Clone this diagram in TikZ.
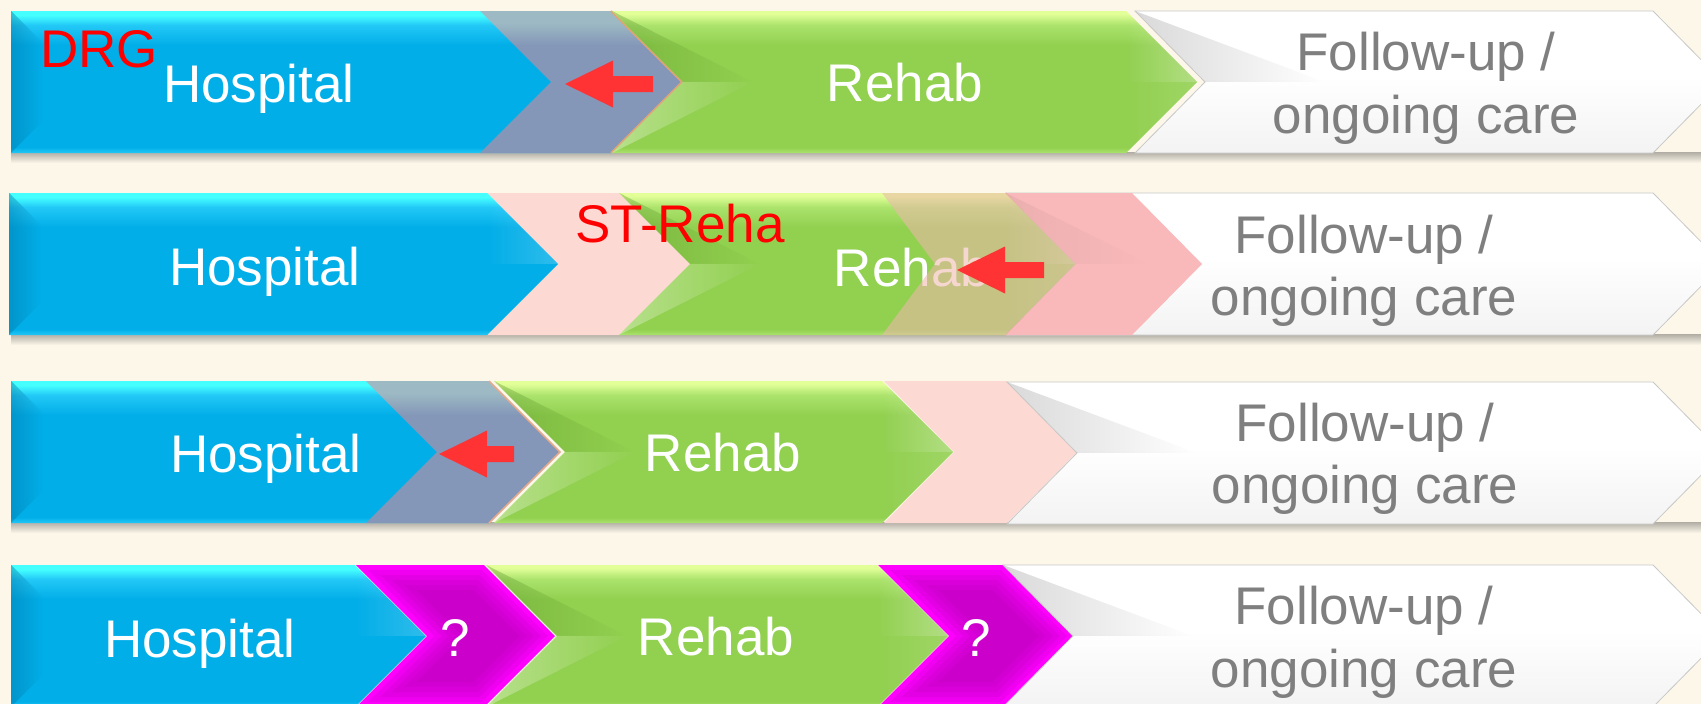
\documentclass[tikz,border=0pt]{standalone}
\usepackage{fontspec}
\setmainfont{Liberation Sans}
\usetikzlibrary{fadings}
\definecolor{bg}{HTML}{FDF7EA}
\definecolor{bBase}{HTML}{02AEE8}
\definecolor{bTop}{HTML}{45FFFF}
\definecolor{bLight}{HTML}{22C8F6}
\definecolor{bDark}{HTML}{0078A8}
\definecolor{gBase}{HTML}{92D050}
\definecolor{gTop}{HTML}{E2FF98}
\definecolor{gLight}{HTML}{ABE36C}
\definecolor{gDark}{HTML}{4E8A20}
\definecolor{grayov}{HTML}{8497B8}
\definecolor{grayovTop}{HTML}{9DBAC4}
\definecolor{ovedge}{HTML}{DDA47A}
\definecolor{pinkL}{HTML}{FCD9D3}
\definecolor{pinkR}{HTML}{F9B9BA}
\definecolor{pinkOv}{HTML}{EEB9AD}
\definecolor{mag}{HTML}{FF00FF}
\definecolor{magD}{HTML}{B000B0}
\definecolor{arrowred}{HTML}{FF3333}
\definecolor{txtgray}{HTML}{7F7F7F}
\definecolor{wBot}{HTML}{F3F3F3}
\pgfdeclareverticalshading{blueV}{100bp}{color(0bp)=(bBase); color(25bp)=(bLight); color(27bp)=(bBase); color(63bp)=(bBase); color(70bp)=(bLight); color(73.5bp)=(bTop); color(100bp)=(bTop)}
\pgfdeclareverticalshading{greenV}{100bp}{color(0bp)=(gBase); color(25bp)=(gLight); color(27bp)=(gBase); color(63bp)=(gBase); color(70bp)=(gLight); color(74bp)=(gTop); color(100bp)=(gTop)}
\pgfdeclareverticalshading{grayV}{100bp}{color(0bp)=(grayov); color(63bp)=(grayov); color(71bp)=(grayovTop); color(100bp)=(grayovTop)}
\pgfdeclareverticalshading{whiteV}{100bp}{color(0bp)=(wBot); color(25bp)=(wBot); color(52bp)=(white); color(100bp)=(white)}
\tikzfading[name=fadeR, left color=transparent!0, right color=transparent!100]
\tikzfading[name=fadeL, left color=transparent!100, right color=transparent!0]
% chevron: style, x1, x2, top, bottom, depth
\newcommand\chevshape[6]{\path[#1] (#2,#4) -- (#3,#4) -- ({#3+#6},{(#4+#5)/2}) -- (#3,#5) -- (#2,#5) -- ({#2+#6},{(#4+#5)/2}) -- cycle;}
\newcommand\pentshape[6]{\path[#1] (#2,#4) -- (#3,#4) -- ({#3+#6},{(#4+#5)/2}) -- (#3,#5) -- (#2,#5) -- cycle;}
% inset chevron (45 deg): style, x1, x2, top, bottom, depth, margin
\newcommand\chevinset[7]{\path[#1] ({#2+2.414*#7},{#4+#7}) -- ({#3-0.414*#7},{#4+#7}) -- ({#3-0.414*#7+#6-#7},{(#4+#5)/2}) -- ({#3-0.414*#7},{#5-#7}) -- ({#2+2.414*#7},{#5-#7}) -- ({#2+2.414*#7+#6-#7},{(#4+#5)/2}) -- cycle;}
% soft bevel wedges of a chevron: x1, x2, top, bottom, depth
\newcommand\chevbevel[5]{%
  \fill[gDark,opacity=.35,path fading=fadeR] (#1,#3) -- ({#1+#5},{(#3+#4)/2}) -- ({#1+#5+70},{(#3+#4)/2}) -- cycle;
  \fill[white,opacity=.35,path fading=fadeR] (#1,#4) -- ({#1+#5},{(#3+#4)/2}) -- ({#1+#5+70},{(#3+#4)/2}) -- cycle;
  \fill[white,opacity=.30,path fading=fadeL] (#2,#3) -- ({#2+#5},{(#3+#4)/2}) -- ({#2+#5-70},{(#3+#4)/2}) -- cycle;
  \fill[white,opacity=.12,path fading=fadeL] (#2,#4) -- ({#2+#5},{(#3+#4)/2}) -- ({#2+#5-70},{(#3+#4)/2}) -- cycle;}
\newcommand\pentbevel[5]{%
  \fill[bDark,opacity=.45,path fading=fadeR] (#1,#3) -- ({#1+32},{#3+32}) -- ({#1+32},{#4-32}) -- (#1,#4) -- cycle;
  \fill[white,opacity=.18,path fading=fadeL] (#2,#3) -- ({#2+#5},{(#3+#4)/2}) -- ({#2+#5-70},{(#3+#4)/2}) -- cycle;}
\newcommand\whitewedge[4]{% x1, top, bottom, depth
  \fill[black,opacity=.15,path fading=fadeR] (#1,#2) -- ({#1+#4},{(#2+#3)/2}) -- ({#1+#4+120},{(#2+#3)/2}) -- cycle;}
\newcommand\blockarrow[3]{% tip, tail, y
  \fill[arrowred] (#1,#3) -- ({#1+48},{#3-23.5}) -- ({#1+48},{#3-8}) -- (#2,{#3-8}) -- (#2,{#3+8}) -- ({#1+48},{#3+8}) -- ({#1+48},{#3+23.5}) -- cycle;}
\newcommand\rowshadow[1]{\shade[top color=black!30!bg, bottom color=bg] (11,{#1-1}) rectangle (1701,{#1+10});}
\newcommand\magchev[6]{% x1,x2,top,bottom,depth (last unused)
  \chevshape{fill=mag}{#1}{#2}{#3}{#4}{#5}
  \chevinset{fill=magD, opacity=.18}{#1}{#2}{#3}{#4}{#5}{5}
  \chevinset{fill=magD, opacity=.18}{#1}{#2}{#3}{#4}{#5}{10}
  \chevinset{fill=magD, opacity=.18}{#1}{#2}{#3}{#4}{#5}{15}
  \chevinset{fill=magD, opacity=.18}{#1}{#2}{#3}{#4}{#5}{20}
  \chevinset{fill=magD, opacity=.18}{#1}{#2}{#3}{#4}{#5}{25}}
\tikzset{
  lbl/.style={inner sep=0pt, anchor=base, font=\fontsize{53}{63}\selectfont, text=white},
  lblg/.style={lbl, text=txtgray},
  lblr/.style={lbl, text=red},
  bluefill/.style={shade, shading=blueV},
  greenfill/.style={shade, shading=greenV},
  grayfill/.style={shade, shading=grayV},
  whitefill/.style={shade, shading=whiteV},
  whiteedge/.style={draw=black!22, line width=0.8pt},
}
\begin{document}
\begin{tikzpicture}[x=1pt,y=-1pt]
\useasboundingbox (0,0) rectangle (1701,704);
\clip (0,0) rectangle (1701,704);
\fill[bg] (0,0) rectangle (1701,704);

% ---------------- Row 1 ----------------
\rowshadow{153}
\pentshape{bluefill}{11}{611}{11}{153}{71}
\pentbevel{11}{611}{11}{153}{71}
\chevshape{grayfill}{480}{611}{11}{153}{71}
\draw[ovedge, line width=1.8pt] (611,11) -- (682,82) -- (611,153);
\chevshape{greenfill}{612}{1126}{11}{153}{71}
\chevbevel{612}{1126}{11}{153}{71}
\chevshape{whitefill}{1135}{1653}{11}{153}{70}
\whitewedge{1135}{11}{153}{70}
\chevshape{whiteedge}{1135}{1653}{11}{153}{70}
\blockarrow{565}{653}{84}
\node[lbl] (h1) at (259,102) {Hospital};
\node[lblr] (drg) at (99,67) {DRG};
\node[lbl] (r1) at (905,101) {Rehab};
\node[lblg] (f1a) at (1426,70) {Follow-up /};
\node[lblg] (f1b) at (1426,133) {ongoing care};

% ---------------- Row 2 ----------------
\rowshadow{335}
\chevshape{fill=pinkL}{487}{619}{193}{335}{71}
\pentshape{bluefill}{9}{487}{193}{335}{71}
\pentbevel{9}{487}{193}{335}{71}
\chevshape{greenfill}{619}{1006}{193}{335}{71}
\chevbevel{619}{1006}{193}{335}{71}
\chevshape{whitefill}{1006}{1653}{193}{335}{70}
\chevshape{whiteedge}{1006}{1653}{193}{335}{70}
\node[lbl] (r2) at (912,286) {Rehab};
\path[fill=pinkOv, fill opacity=.57] (882,193) -- (1006,193) -- (1077,264) -- (1006,335) -- (882,335) -- (935,264) -- cycle;
\draw[pinkOv!80!red, line width=1pt, opacity=.6] (1006,193) -- (1077,264) -- (1006,335);
\chevshape{fill=pinkR}{1006}{1132}{193}{335}{70}
\fill[black,opacity=.05,path fading=fadeR] (1006,193) -- (1076,264) -- (1150,264) -- cycle;
\blockarrow{957}{1044}{270}
\node[lbl] (h2) at (265,285) {Hospital};
\node[lblr] (st) at (680,242) {ST-Reha};
\node[lblg] (f2a) at (1364,253) {Follow-up /};
\node[lblg] (f2b) at (1364,315) {ongoing care};

% ---------------- Row 3 ----------------
\rowshadow{523}
\pentshape{bluefill}{11}{489}{381}{523}{71}
\pentbevel{11}{489}{381}{523}{71}
\chevshape{grayfill}{366}{489}{381}{523}{71}
\draw[ovedge!70!pinkR, line width=1.5pt] (489,381) -- (560,452) -- (489,523);
\chevshape{fill=pinkL}{884}{1007}{381}{523}{70}
\chevshape{greenfill}{494}{882}{381}{523}{71}
\chevbevel{494}{882}{381}{523}{71}
\chevshape{whitefill}{1007}{1653}{382}{524}{70}
\whitewedge{1007}{382}{524}{70}
\chevshape{whiteedge}{1007}{1653}{382}{524}{70}
\blockarrow{439}{514}{454}
\node[lbl] (h3) at (266,472) {Hospital};
\node[lbl] (r3) at (723,471) {Rehab};
\node[lblg] (f3a) at (1365,441) {Follow-up /};
\node[lblg] (f3b) at (1365,503) {ongoing care};

% ---------------- Row 4 ----------------
\pentshape{bluefill}{11}{355}{565}{707}{71}
\pentbevel{11}{355}{565}{707}{71}
\magchev{356}{484}{565}{707}{71}{}
\chevshape{greenfill}{486}{877}{565}{707}{71}
\chevbevel{486}{877}{565}{707}{71}
\magchev{878}{1003}{565}{707}{71}{}
\chevshape{whitefill}{1003}{1653}{565}{707}{70}
\whitewedge{1003}{565}{707}{70}
\chevshape{whiteedge}{1003}{1653}{565}{707}{70}
\node[lbl] (h4) at (200,657) {Hospital};
\node[lbl] (q1) at (455,656) {?};
\node[lbl] (r4) at (716,655) {Rehab};
\node[lbl] (q2) at (976,656) {?};
\node[lblg] (f4a) at (1364,624) {Follow-up /};
\node[lblg] (f4b) at (1364,687) {ongoing care};
\end{tikzpicture}
\end{document}
